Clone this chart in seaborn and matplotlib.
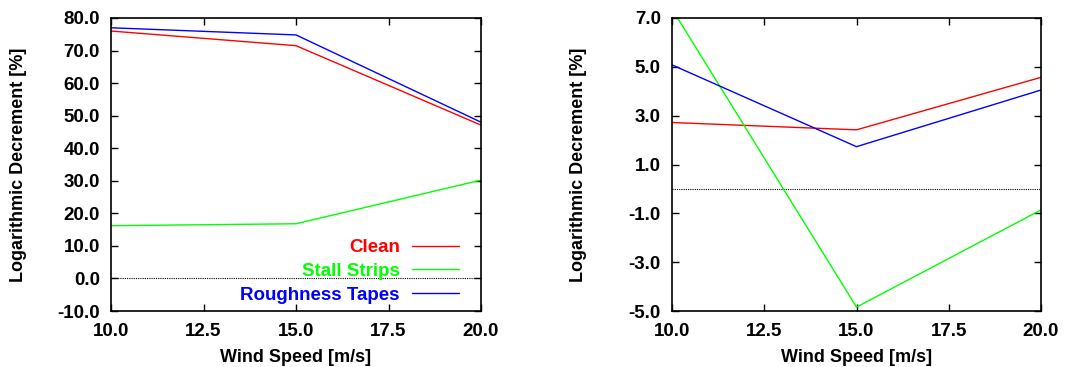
import matplotlib
matplotlib.use("Agg")
import matplotlib.pyplot as plt
import seaborn as sns
import pandas as pd
import numpy as np

wind = [10.0, 15.0, 20.0]
series = ["Clean", "Stall Strips", "Roughness Tapes"]
left_clean = [76.0, 71.5, 47.1]
left_stall = [16.2, 16.8, 30.2]
left_rough = [77.0, 74.8, 48.0]
right_clean = [2.72, 2.42, 4.57]
right_stall = [7.37, -4.84, -0.86]
right_rough = [5.08, 1.73, 4.05]
colors = ["#ff0000", "#00ff00", "#0000ff"]

def make_df(a, b, c):
    rows = []
    for name, vals in zip(series, [a, b, c]):
        for x, v in zip(wind, vals):
            rows.append({"Wind": x, "Value": v, "Series": name})
    return pd.DataFrame(rows)

sns.set_theme(style="white")
plt.rcParams["font.family"] = ["Liberation Sans", "DejaVu Sans"]
plt.rcParams["font.weight"] = "bold"
plt.rcParams["text.color"] = "black"
plt.rcParams["axes.labelcolor"] = "black"
plt.rcParams["xtick.color"] = "black"
plt.rcParams["ytick.color"] = "black"

fig = plt.figure(figsize=(10.88, 3.67), dpi=100)
ax1 = fig.add_axes([111/1088, 1-311/367, 370/1088, 293/367])
ax2 = fig.add_axes([672/1088, 1-311/367, 369/1088, 293/367])

pal = dict(zip(series, colors))
for ax, df, ylim, yticks, ylp in [
    (ax1, make_df(left_clean, left_stall, left_rough), (-10, 80), np.arange(-10, 81, 10), 22),
    (ax2, make_df(right_clean, right_stall, right_rough), (-5, 7), np.arange(-5, 7.1, 2), 30),
]:
    sns.lineplot(data=df, x="Wind", y="Value", hue="Series", palette=pal, ax=ax,
                 linewidth=1.0, legend=(ax is ax1))
    ax.axhline(0, color="black", linestyle=(0, (1, 1)), linewidth=0.8, zorder=1)
    ax.set_xlim(10, 20)
    ax.set_ylim(*ylim)
    ax.set_xticks([10, 12.5, 15, 17.5, 20])
    ax.set_xticklabels(["10.0", "12.5", "15.0", "17.5", "20.0"])
    ax.set_yticks(yticks)
    ax.set_yticklabels([f"{v:.1f}" for v in yticks])
    ax.tick_params(direction="in", top=True, right=True, length=5, width=1,
                   labelsize=13.5, color="black", labelcolor="black",
                   bottom=True, left=True)
    ax.tick_params(axis="y", pad=8)
    ax.tick_params(axis="x", pad=9)
    for lab in ax.get_xticklabels() + ax.get_yticklabels():
        lab.set_fontweight("bold")
    for s in ax.spines.values():
        s.set_color("black")
        s.set_linewidth(1.2)
    ax.set_xlabel("Wind Speed [m/s]", fontsize=13, fontweight="bold", labelpad=6, color="black")
    ax.set_ylabel("Logarithmic Decrement [%]", fontsize=13, fontweight="bold", labelpad=ylp, color="black")

leg = ax1.legend(loc="lower right", frameon=False, markerfirst=False,
                 labelcolor="linecolor", fontsize=13.5, handlelength=2.5,
                 handletextpad=0.65, borderaxespad=0.0, labelspacing=0.35,
                 bbox_to_anchor=(0.96, 0.0))
for t in leg.get_texts():
    t.set_fontweight("bold")
    t.set_ha("right")

fig.savefig("out.png", dpi=100)
